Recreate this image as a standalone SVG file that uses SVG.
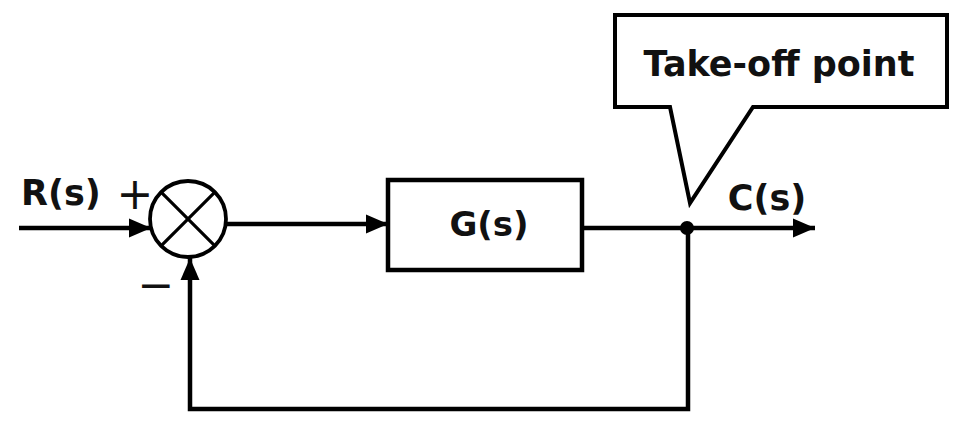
<svg xmlns="http://www.w3.org/2000/svg" width="960" height="427" viewBox="0 0 960 427">
<style>
.ln{fill:none;stroke:#000;stroke-width:4.5;stroke-linecap:butt;stroke-linejoin:miter}
.lbl{font-family:"DejaVu Sans",Verdana,sans-serif;font-weight:bold;fill:#111}
.sign{font-family:"DejaVu Sans",sans-serif;fill:#111}
</style>
<defs>
<marker id="arr" markerUnits="userSpaceOnUse" markerWidth="24" markerHeight="22" viewBox="0 0 24 22" refX="22" refY="11" orient="auto">
<path d="M0,1.5 L22,11 L0,20.5 Z" fill="#000"/>
</marker>
</defs>
<rect width="960" height="427" fill="#fff"/>
<g id="connectors">
<line class="ln" x1="19" y1="228" x2="151" y2="228" marker-end="url(#arr)"/>
<line class="ln" x1="226" y1="224" x2="388" y2="224" marker-end="url(#arr)"/>
<line class="ln" x1="582" y1="228" x2="815" y2="228" marker-end="url(#arr)"/>
<polyline class="ln" points="688,228 688,409 190,409 190,258" marker-end="url(#arr)"/>
</g>
<g id="summing-junction">
<circle cx="188" cy="219" r="38" fill="#fff" stroke="#000" stroke-width="3.8"/>
<line x1="161.1" y1="192.1" x2="214.9" y2="245.9" stroke="#000" stroke-width="3.2"/>
<line x1="214.9" y1="192.1" x2="161.1" y2="245.9" stroke="#000" stroke-width="3.2"/>
<text class="sign" x="135" y="209" font-size="44" text-anchor="middle">+</text>
<text class="sign" x="156" y="300" font-size="44" text-anchor="middle">−</text>
</g>
<g id="input-label">
<text class="lbl" x="21" y="205" font-size="35">R(s)</text>
</g>
<g id="block-G">
<rect x="388" y="180" width="194" height="90" fill="#fff" stroke="#000" stroke-width="4.5"/>
<text class="lbl" x="489" y="236" font-size="34" text-anchor="middle">G(s)</text>
</g>
<g id="take-off-point">
<circle cx="687" cy="228" r="7" fill="#000"/>
</g>
<g id="output-label">
<text class="lbl" x="767" y="210" font-size="35" text-anchor="middle">C(s)</text>
</g>
<g id="callout">
<polygon points="615,15 947,15 947,107 753,107 690,203 670,107 615,107" fill="#fff" stroke="#000" stroke-width="4" stroke-linejoin="miter"/>
<text class="lbl" x="779" y="76" font-size="35" text-anchor="middle">Take-off point</text>
</g>
</svg>
